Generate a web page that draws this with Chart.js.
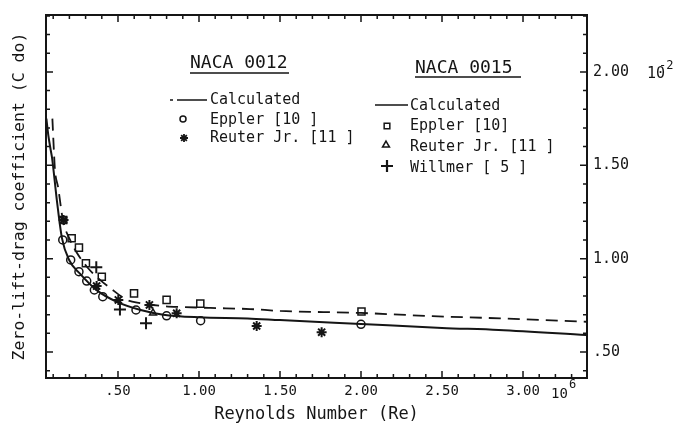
<!DOCTYPE html>
<html>
<head>
<meta charset="utf-8">
<script src="https://cdn.jsdelivr.net/npm/chart.js@4.4.1/dist/chart.umd.min.js"></script>
<style>
  html, body { margin: 0; padding: 0; background: #fff; }
</style>
</head>
<body>
<canvas id="dragChart" width="673" height="429"></canvas>
<script>
// Reynolds number in 10^6, zero-lift drag coefficient in 10^-2
const calc0012Re = [0.058, 0.07, 0.085, 0.093, 0.123, 0.154, 0.20, 0.265, 0.37, 0.49, 0.64, 0.78, 1.00, 1.30, 1.50, 2.00, 2.50, 2.85, 3.39];
const calc0012Cd = [1.75, 1.66, 1.58, 1.54, 1.31, 1.11, 0.99, 0.92, 0.83, 0.77, 0.725, 0.70, 0.686, 0.68, 0.671, 0.650, 0.629, 0.618, 0.591];

const calc0015Re = [0.095, 0.102, 0.111, 0.130, 0.160, 0.204, 0.247, 0.309, 0.389, 0.451, 0.556, 0.636, 0.778, 0.90, 1.07, 1.315, 1.50, 2.00, 2.44, 2.86, 3.39];
const calc0015Cd = [1.75, 1.62, 1.475, 1.384, 1.207, 1.10, 1.03, 0.955, 0.886, 0.843, 0.779, 0.762, 0.746, 0.741, 0.736, 0.730, 0.720, 0.709, 0.692, 0.680, 0.662];

const eppler0012Re = [0.159, 0.208, 0.259, 0.307, 0.354, 0.406, 0.611, 0.80, 1.01, 2.00];
const eppler0012Cd = [1.100, 0.993, 0.930, 0.880, 0.832, 0.796, 0.725, 0.694, 0.668, 0.648];

const reuter0012Re = [0.164, 0.368, 0.502, 0.694, 0.862, 1.356, 1.757];
const reuter0012Cd = [1.207, 0.853, 0.779, 0.752, 0.707, 0.639, 0.606];

const eppler0015Re = [0.162, 0.214, 0.259, 0.302, 0.40, 0.599, 0.80, 1.008, 2.003];
const eppler0015Cd = [1.207, 1.109, 1.059, 0.975, 0.903, 0.814, 0.779, 0.759, 0.717];

const reuter0015Re = [0.716];
const reuter0015Cd = [0.709];

const willmer0015Re = [0.366, 0.512, 0.673];
const willmer0015Cd = [0.954, 0.727, 0.654];

const xTickValues = [0.5, 1.0, 1.5, 2.0, 2.5, 3.0];
const xTickLabels = ['.50', '1.00', '1.50', '2.00', '2.50', '3.00'];
const yTickValues = [0.5, 1.0, 1.5, 2.0];
const yTickLabels = ['.50', '1.00', '1.50', '2.00'];

const ink = '#151515';
const mono = "'DejaVu Sans Mono', monospace";

function pts(xs, ys) {
  return xs.map((x, i) => ({ x, y: ys[i] }));
}

function marker(label, xs, ys, style, radius, width) {
  return {
    label,
    data: pts(xs, ys),
    pointStyle: style,
    pointRadius: radius,
    pointBorderWidth: width,
    pointBorderColor: ink,
    pointBackgroundColor: 'rgba(0,0,0,0)',
    showLine: false,
    order: 1
  };
}

// frame, inward ticks, legend block and the exponent notes
const paperPlugin = {
  id: 'paper',
  afterDatasetsDraw(chart) {
    const { ctx, chartArea: a, scales } = chart;
    const xs = scales.x, ys = scales.y;
    ctx.save();
    ctx.strokeStyle = ink;
    ctx.fillStyle = ink;

    ctx.lineWidth = 1.5;
    ctx.beginPath();
    for (let i = 1; i / 10 < xs.max; i++) {
      const px = xs.getPixelForValue(i / 10);
      const len = i % 5 === 0 ? 7 : 4;
      ctx.moveTo(px, a.bottom); ctx.lineTo(px, a.bottom - len);
      ctx.moveTo(px, a.top); ctx.lineTo(px, a.top + len);
    }
    for (let i = 4; i / 10 < ys.max; i++) {
      const py = ys.getPixelForValue(i / 10);
      const len = i % 5 === 0 ? 7 : 4;
      ctx.moveTo(a.left, py); ctx.lineTo(a.left + len, py);
      ctx.moveTo(a.right, py); ctx.lineTo(a.right - len, py);
    }
    ctx.stroke();

    ctx.lineWidth = 2;
    ctx.strokeRect(a.left, a.top, a.right - a.left, a.bottom - a.top);

    // legend headers
    ctx.textAlign = 'left';
    ctx.textBaseline = 'middle';
    ctx.font = `18px ${mono}`;
    ctx.fillText('NACA 0012', 190, 63);
    ctx.fillText('NACA 0015', 415, 68);
    ctx.lineWidth = 1.3;
    ctx.beginPath();
    ctx.moveTo(190, 73); ctx.lineTo(289, 73);
    ctx.moveTo(415, 77); ctx.lineTo(521, 77);
    ctx.stroke();

    // legend rows
    ctx.font = `15px ${mono}`;
    ctx.fillText('Calculated', 210, 100);
    ctx.fillText('Eppler [10 ]', 210, 120);
    ctx.fillText('Reuter Jr. [11 ]', 210, 138);
    ctx.fillText('Calculated', 410, 106);
    ctx.fillText('Eppler [10]', 410, 126);
    ctx.fillText('Reuter Jr. [11 ]', 410, 147);
    ctx.fillText('Willmer [ 5 ]', 410, 168);

    ctx.lineWidth = 1.6;
    ctx.beginPath();
    ctx.moveTo(170, 100); ctx.lineTo(173, 100);
    ctx.moveTo(177, 100); ctx.lineTo(207, 100);
    ctx.moveTo(375, 105); ctx.lineTo(408, 105);
    ctx.stroke();

    const dp = Chart.helpers && Chart.helpers.drawPoint;
    if (dp) {
      ctx.fillStyle = 'rgba(0,0,0,0)';
      ctx.lineWidth = 1.5;
      dp(ctx, { pointStyle: 'circle', radius: 3, borderWidth: 1.5, rotation: 0 }, 183, 119);
      ctx.lineWidth = 1.8;
      dp(ctx, { pointStyle: 'star', radius: 4, borderWidth: 1.8, rotation: 0 }, 184, 138);
      ctx.lineWidth = 1.5;
      dp(ctx, { pointStyle: 'rect', radius: 4, borderWidth: 1.5, rotation: 0 }, 387, 126);
      dp(ctx, { pointStyle: 'triangle', radius: 4, borderWidth: 1.3, rotation: 0 }, 386, 145);
      ctx.lineWidth = 2.2;
      dp(ctx, { pointStyle: 'cross', radius: 6, borderWidth: 2.2, rotation: 0 }, 387, 166);
      ctx.fillStyle = ink;
    }

    // exponent notes
    ctx.font = `14px ${mono}`;
    ctx.fillText('10', 551, 394);
    ctx.font = `12px ${mono}`;
    ctx.fillText('6', 569, 385);
    ctx.font = `15px ${mono}`;
    ctx.fillText('10', 647, 74);
    ctx.font = `12px ${mono}`;
    ctx.fillText('-2', 659, 66);
    ctx.restore();
  }
};

new Chart(document.getElementById('dragChart'), {
  type: 'scatter',
  data: {
    datasets: [
      marker('NACA 0012 Eppler [10]', eppler0012Re, eppler0012Cd, 'circle', 4, 1.5),
      marker('NACA 0012 Reuter Jr. [11]', reuter0012Re, reuter0012Cd, 'star', 5, 2),
      marker('NACA 0015 Eppler [10]', eppler0015Re, eppler0015Cd, 'rect', 5, 1.5),
      marker('NACA 0015 Reuter Jr. [11]', reuter0015Re, reuter0015Cd, 'triangle', 4, 1.5),
      marker('NACA 0015 Willmer [5]', willmer0015Re, willmer0015Cd, 'cross', 6, 2),
      {
        label: 'NACA 0012 Calculated',
        data: pts(calc0012Re, calc0012Cd),
        showLine: true,
        pointRadius: 0,
        borderColor: ink,
        borderWidth: 2,
        cubicInterpolationMode: 'monotone',
        order: 2
      },
      {
        label: 'NACA 0015 Calculated',
        data: pts(calc0015Re, calc0015Cd),
        showLine: true,
        pointRadius: 0,
        borderColor: ink,
        borderWidth: 1.8,
        borderDash: [12, 7],
        cubicInterpolationMode: 'monotone',
        order: 2
      }
    ]
  },
  options: {
    responsive: false,
    animation: false,
    devicePixelRatio: 1,
    layout: { padding: { top: 15, left: 0, right: 0, bottom: 0 } },
    scales: {
      x: {
        type: 'linear',
        position: 'bottom',
        min: 0.0556,
        max: 3.395,
        afterBuildTicks: s => { s.ticks = xTickValues.map(v => ({ value: v })); },
        afterFit: s => { s.height = 51; },
        grid: { display: false, drawTicks: false },
        border: { display: false },
        ticks: {
          color: ink,
          padding: 5,
          maxRotation: 0,
          font: { family: mono, size: 14 },
          callback: (v, i) => xTickLabels[i]
        },
        title: {
          display: true,
          text: 'Reynolds Number (Re)',
          color: ink,
          font: { family: mono, size: 17 },
          padding: { top: 0, bottom: 4 }
        }
      },
      y: {
        type: 'linear',
        position: 'right',
        min: 0.3607,
        max: 2.305,
        afterBuildTicks: s => { s.ticks = yTickValues.map(v => ({ value: v })); },
        afterFit: s => { s.width = 86; },
        grid: { display: false, drawTicks: false },
        border: { display: false },
        ticks: {
          color: ink,
          padding: 6,
          font: { family: mono, size: 15 },
          callback: (v, i) => yTickLabels[i]
        }
      },
      yl: {
        type: 'linear',
        position: 'left',
        min: 0.3607,
        max: 2.305,
        afterFit: s => { s.width = 46; },
        grid: { display: false, drawTicks: false },
        border: { display: false },
        ticks: { display: false },
        title: {
          display: true,
          text: 'Zero-lift-drag coefficient (C do)',
          color: ink,
          font: { family: mono, size: 16.5 },
          padding: { top: 10, bottom: 0 }
        }
      }
    },
    plugins: {
      legend: { display: false },
      tooltip: { enabled: false }
    }
  },
  plugins: [paperPlugin]
});
</script>
</body>
</html>
